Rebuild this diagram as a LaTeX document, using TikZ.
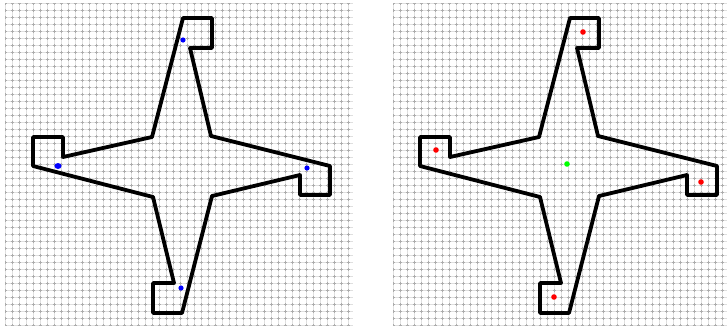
\documentclass[tikz,border=0pt]{standalone}
\usetikzlibrary{positioning}

\begin{document}
\begin{tikzpicture}[x=1pt, y=-1pt,
    gridbase/.style={gray!25, line width=0.8pt},
    gridline/.style={gray!65, line width=0.8pt, dash pattern=on 3pt off 4pt, dash phase=1.5pt},
    outline/.style={line width=3.8pt, line join=round},
    marker/.style={fill=blue},
    target/.style={fill=red}]
    \useasboundingbox (0,0) rectangle (728,327);

    % Grids
    \foreach \gx/\gw in {5/348, 393/334} {
        \begin{scope}[shift={(\gx,3)}]
            \draw[gridbase, step=7pt] (0,0) grid (\gw,322);
            \draw[gridline, step=7pt] (0,0) grid (\gw,322);
        \end{scope}
    }

    % Outlines
    \foreach \ox in {0,387} {
        \begin{scope}[xshift=\ox pt]
            \draw[outline] (183,18) -- (212,18) -- (212,48) -- (190,48) -- (211,136)
                -- (330,166) -- (330,195) -- (300,195) -- (300,175) -- (212,196)
                -- (182,313) -- (153,313) -- (153,283) -- (174,283) -- (153,197)
                -- (33,166) -- (33,137) -- (63,137) -- (63,157) -- (152,137) -- cycle;
        \end{scope}
    }

    % Left dots
    \fill[marker] (183,40) circle (2.6);
    \fill[marker] (58,166) ellipse (3.6 and 3);
    \fill[marker] (307,168) circle (2.6);
    \fill[marker] (181,288) circle (2.6);

    % Right dots
    \fill[target] (583,32) circle (2.8);
    \fill[target] (436,150) circle (2.8);
    \fill[target] (701,182) circle (2.8);
    \fill[target] (554,297) circle (2.8);
    \fill[green] (567,164) circle (2.8);
\end{tikzpicture}
\end{document}
